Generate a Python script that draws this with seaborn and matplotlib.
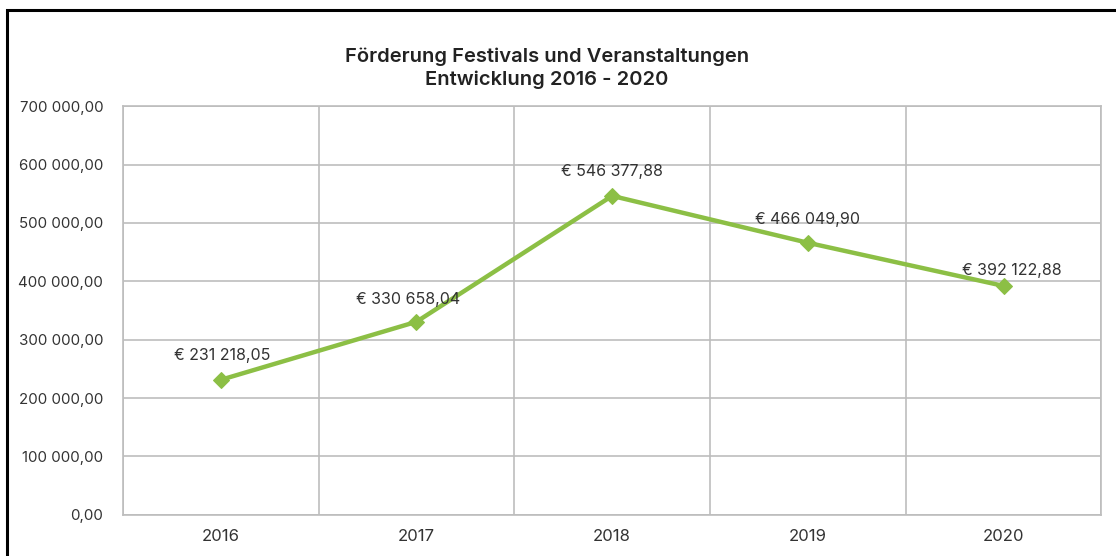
import matplotlib
matplotlib.use('Agg')
import matplotlib.pyplot as plt
import seaborn as sns
import pandas as pd
from matplotlib.patches import Rectangle
from matplotlib.ticker import FuncFormatter, MultipleLocator

years = ['2016', '2017', '2018', '2019', '2020']
amounts = [231218.05, 330658.04, 546377.88, 466049.90, 392122.88]
amount_labels = ['€ 231 218,05', '€ 330 658,04', '€ 546 377,88', '€ 466 049,90', '€ 392 122,88']

df = pd.DataFrame({'year': years, 'amount': amounts})

sns.set_theme(style='white')
plt.rcParams['font.family'] = ['Inter', 'DejaVu Sans']
text_col = '#333333'
green = '#8cbf45'

fig = plt.figure(figsize=(11.16, 5.56), dpi=100)
ax = fig.add_axes([0.110, 0.074, 0.877, 0.735])

x = list(range(len(years)))
sns.lineplot(x=x, y=df['amount'], ax=ax, color=green, linewidth=3.2,
             marker='D', markersize=8, markeredgecolor=green)

# label offsets (points)
offsets = [(1, 12), (-6, 11), (0, 12), (0, 11), (6, 6)]
for xi, yi, lab, off in zip(x, amounts, amount_labels, offsets):
    ax.annotate(lab, (xi, yi), xytext=off, textcoords='offset points',
                ha='center', va='bottom', fontsize=11.5, color=text_col)

ax.set_xlim(-0.5, len(years) - 0.5)
ax.set_ylim(0, 700000)
ax.yaxis.set_major_locator(MultipleLocator(100000))
ax.yaxis.set_major_formatter(FuncFormatter(
    lambda v, p: f'{v:,.2f}'.replace(',', ' ').replace('.', ',')))
ax.set_xticks(x)
ax.set_xticklabels(years)
ax.set_xticks([i - 0.5 for i in range(len(years) + 1)], minor=True)

ax.grid(False)
ax.grid(True, axis='y', which='major', color='#bdbdbd', linewidth=1.2)
ax.grid(True, axis='x', which='minor', color='#bdbdbd', linewidth=1.2)
ax.tick_params(axis='both', which='both', length=0, colors=text_col)
ax.tick_params(axis='y', labelsize=10.8, pad=14)
ax.tick_params(axis='x', labelsize=12, pad=10)
for s in ax.spines.values():
    s.set_color('#bdbdbd')
    s.set_linewidth(1.2)
ax.set_xlabel('')
ax.set_ylabel('')

fig.text(0.49, 0.878, 'Förderung Festivals und Veranstaltungen\nEntwicklung 2016 - 2020',
         ha='center', va='center', fontsize=14.5, fontweight='semibold',
         color='#222222', linespacing=1.3)

fig.patches.append(Rectangle((7 / 1116, -0.1), 1.2, 1.1 - 10 / 556,
                             transform=fig.transFigure, fill=False,
                             edgecolor='black', linewidth=2.2))

fig.savefig('out.png', dpi=100)
